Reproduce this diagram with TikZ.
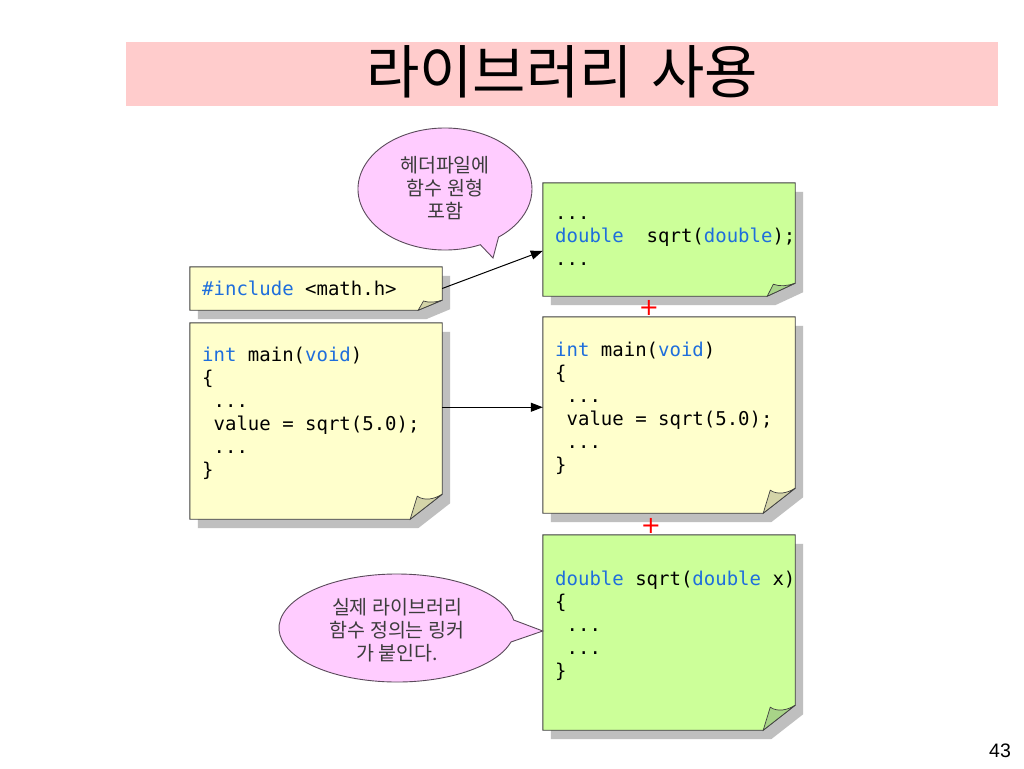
\documentclass[tikz,border=0pt]{standalone}
\usepackage{fontspec}
\usetikzlibrary{calc,arrows.meta}
\newfontfamily\kr{Noto Sans CJK KR}
\newfontfamily\code{DejaVu Sans Mono}
\newfontfamily\num{Liberation Sans}
\newfontfamily\sym{DejaVu Sans}
\definecolor{titlebg}{HTML}{FFCCCC}
\definecolor{noteyel}{HTML}{FFFFCC}
\definecolor{notegrn}{HTML}{CCFF99}
\definecolor{flapyel}{HTML}{D4D4A8}
\definecolor{flapgrn}{HTML}{A8D488}
\definecolor{shadowc}{HTML}{BFBFBF}
\definecolor{notedraw}{HTML}{404040}
\definecolor{bubfill}{HTML}{FFCCFF}
\definecolor{bubdraw}{HTML}{5A4A5A}
\definecolor{kwblue}{HTML}{1E6EDC}
\definecolor{krtext}{HTML}{3C3C3C}
\newcommand\kw[1]{\textcolor{kwblue}{#1}}
\newcommand\csp{\hphantom{x}}
\newcommand\drawnote[5]{%
  \fill[shadowc] ($(#1.north west)+(8,9)$) -- ($(#1.north east)+(8,9)$)
    -- ($(#1.south east)+(8,9-#5)$) -- ($(#1.south east)+(8-#4,9)$)
    -- ($(#1.south west)+(8,9)$) -- cycle;
  \filldraw[fill=#2, draw=notedraw, line width=0.9pt] (#1.north west) -- (#1.north east)
    -- ($(#1.south east)+(0,-#5)$) -- ($(#1.south east)+(-#4,0)$)
    -- (#1.south west) -- cycle;
  \filldraw[fill=#3, draw=notedraw, line width=0.7pt] ($(#1.south east)+(-#4,0)$)
    -- ($(#1.south east)+(-0.78*#4,-0.92*#5)$)
    .. controls ($(#1.south east)+(-0.55*#4,-0.72*#5)$) and ($(#1.south east)+(-0.25*#4,-0.8*#5)$)
    .. ($(#1.south east)+(0,-#5)$) -- cycle;
}
\tikzset{
  notebox/.style={draw=none, inner sep=0pt, minimum width=252pt},
  codetext/.style={anchor=north west, inner sep=0pt, align=left, text=black,
    font=\code\fontsize{19}{23}\selectfont},
  krlabel/.style={align=center, inner sep=0pt, text=krtext,
    font=\kr\fontsize{19.5}{23}\selectfont},
  bubble/.style={fill=bubfill, draw=bubdraw, line width=0.9pt},
  conn/.style={draw=black, line width=1pt, -{Triangle[length=12pt,width=9pt]}},
  plusmark/.style={text=red, inner sep=0pt, font=\sym\fontsize{24}{24}\selectfont}
}
\begin{document}
\begin{tikzpicture}[x=1pt,y=-1pt]
\useasboundingbox[fill=white] (0,0) rectangle (1024,768);

% title
\node[fill=titlebg, minimum width=872pt, minimum height=64pt, inner sep=0pt] (titlebar) at (562,74) {};
\node[inner sep=0pt, font=\kr\fontsize{58}{58}\selectfont] (title) at (562,72) {라이브러리\hspace{18pt}사용};

% note boxes
\node[notebox, minimum height=43pt] (inc) at (316,288.5) {};
\node[notebox, minimum height=196pt] (mainL) at (316,421) {};
\node[notebox, minimum height=113pt] (protoR) at (669,239.5) {};
\node[notebox, minimum height=196pt] (mainR) at (669,415) {};
\node[notebox, minimum height=195pt] (defR) at (669,632.5) {};

\drawnote{inc}{noteyel}{flapyel}{24}{10}
\drawnote{mainL}{noteyel}{flapyel}{32}{25}
\drawnote{protoR}{notegrn}{flapgrn}{28}{13}
\drawnote{mainR}{noteyel}{flapyel}{32}{25}
\drawnote{defR}{notegrn}{flapgrn}{32}{25}

% code texts
\node[codetext] (incT) at (202,281) {\vphantom{(}\kw{\#include} <math.h>};
\node[codetext] (mainLT) at (202,347) {\vphantom{(}\kw{int} main(\kw{void})\\
\{\\
\csp...\\
\csp value = sqrt(5.0);\\
\csp...\\
\}};
\node[codetext] (protoRT) at (555,205) {\vphantom{(}...\\
\kw{double}\csp\csp sqrt(\kw{double});\\
...};
\node[codetext] (mainRT) at (555,342) {\vphantom{(}\kw{int} main(\kw{void})\\
\{\\
\csp...\\
\csp value = sqrt(5.0);\\
\csp...\\
\}};
\node[codetext] (defRT) at (555,571) {\vphantom{(}\kw{double} sqrt(\kw{double} x)\\
\{\\
\csp...\\
\csp...\\
\}};

% plus signs
\node[plusmark] (plus1) at (649,308) {+};
\node[plusmark] (plus2) at (651,526) {+};

% connectors
\coordinate (a1) at ($(protoR.north west)!0.6!(protoR.south west)$);
\draw[conn] (inc.east) -- (a1);
\coordinate (a2) at ($(mainL.north east)!0.43!(mainL.south east)$);
\draw[conn] (a2) -- (a2 -| mainR.west);

% bubble 1
\coordinate (tip1) at (493,258);
\path[bubble] (445,189) ++(66:87 and 61)
  arc[start angle=66, end angle=412, x radius=87, y radius=61]
  -- (tip1) -- cycle;
\node[krlabel] (bub1) at (445,188) {헤더파일에\\함수 원형\\포함};

% bubble 2
\coordinate (tip2) at (defR.west |- 0,631);
\path[bubble] (397,628) ++(15:118 and 54)
  arc[start angle=15, end angle=351.5, x radius=118, y radius=54]
  -- (tip2) -- cycle;
\node[krlabel] (bub2) at (397,630) {실제 라이브러리\\함수 정의는 링커\\가 붙인다.};

% page number
\node[inner sep=0pt, font=\num\fontsize{19.5}{20}\selectfont] (page) at (1000,751) {43};
\end{tikzpicture}
\end{document}
